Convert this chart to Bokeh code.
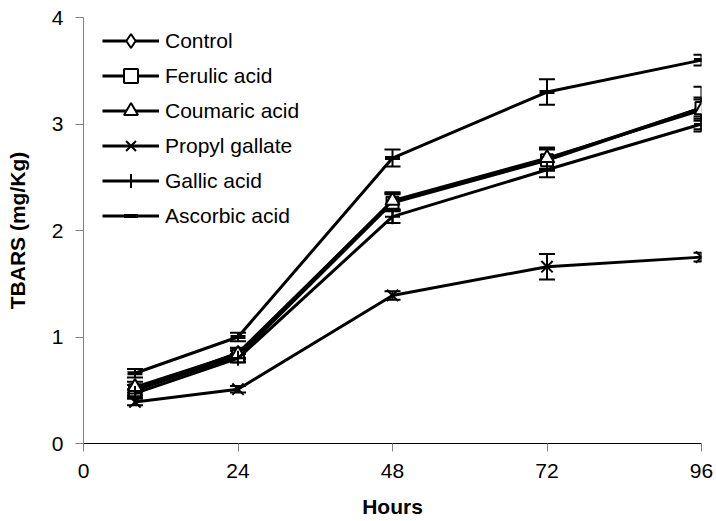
from bokeh.plotting import figure
from bokeh.models import Whisker, ColumnDataSource, TeeHead, FixedTicker, Range1d
from bokeh.embed import file_html
from bokeh.resources import INLINE

hours = [8, 24, 48, 72, 96]
control = [0.50, 0.85, 2.27, 2.67, 3.15]
ferulic = [0.50, 0.82, 2.26, 2.66, 3.15]
coumaric = [0.53, 0.84, 2.28, 2.68, 3.13]
propyl = [0.39, 0.51, 1.39, 1.66, 1.75]
gallic = [0.47, 0.80, 2.13, 2.57, 3.00]
ascorbic = [0.66, 1.00, 2.68, 3.30, 3.60]

control_err = [0.05, 0.05, 0.08, 0.10, 0.20]
ferulic_err = [0.05, 0.05, 0.08, 0.10, 0.10]
coumaric_err = [0.05, 0.05, 0.08, 0.10, 0.10]
propyl_err = [0.03, 0.03, 0.04, 0.12, 0.04]
gallic_err = [0.04, 0.04, 0.06, 0.07, 0.07]
ascorbic_err = [0.04, 0.04, 0.08, 0.12, 0.05]

x_ticks = [0, 24, 48, 72, 96]
y_ticks = [0, 1, 2, 3, 4]

FONT = "Liberation Sans"

p = figure(width=716, height=521, output_backend="svg", toolbar_location=None,
           x_range=Range1d(0, 96), y_range=Range1d(0, 4),
           min_border_left=83, min_border_right=15, min_border_top=17, min_border_bottom=78)
p.outline_line_color = None
p.xgrid.visible = False
p.ygrid.visible = False

series = [
    ("Control", control, control_err, "diamond", 14),
    ("Ferulic acid", ferulic, ferulic_err, "square", 12),
    ("Coumaric acid", coumaric, coumaric_err, "triangle", 14),
    ("Propyl gallate", propyl, propyl_err, "x", 16),
    ("Gallic acid", gallic, gallic_err, "cross", 15),
    ("Ascorbic acid", ascorbic, ascorbic_err, "dash", 15),
]

for name, vals, errs, marker, size in series:
    src = ColumnDataSource(dict(x=hours, y=vals,
                                lo=[v - e for v, e in zip(vals, errs)],
                                hi=[v + e for v, e in zip(vals, errs)]))
    w = Whisker(source=src, base="x", lower="lo", upper="hi",
                line_color="black", line_width=2,
                upper_head=TeeHead(size=16, line_color="black", line_width=2),
                lower_head=TeeHead(size=16, line_color="black", line_width=2))
    p.add_layout(w)
    p.line("x", "y", source=src, line_color="black", line_width=3, legend_label=name)
    fill = "white" if marker in ("diamond", "square", "triangle") else None
    p.scatter("x", "y", source=src, marker=marker, size=size, line_color="black",
              line_width=2 if marker != "dash" else 4, fill_color=fill, legend_label=name)

for ax in (p.xaxis[0], p.yaxis[0]):
    ax.major_label_text_font = FONT
    ax.major_label_text_font_size = "21px"
    ax.major_label_text_color = "black"
    ax.axis_label_text_font = FONT
    ax.axis_label_text_font_size = "21px"
    ax.axis_label_text_font_style = "bold"
    ax.axis_label_text_color = "black"
    ax.minor_tick_line_color = None
    ax.major_tick_in = 0
    ax.major_tick_out = 8
    ax.major_tick_line_width = 1

p.xaxis.ticker = FixedTicker(ticks=x_ticks)
p.yaxis.ticker = FixedTicker(ticks=y_ticks)
p.xaxis.axis_label = "Hours"
p.yaxis.axis_label = "TBARS (mg/Kg)"
p.xaxis.axis_line_color = "black"
p.xaxis.major_tick_line_color = "#808080"
p.yaxis.axis_line_color = "#808080"
p.yaxis.major_tick_line_color = "#808080"
p.xaxis.major_label_standoff = 12
p.yaxis.major_label_standoff = 12
p.xaxis.axis_label_standoff = 14
p.yaxis.axis_label_standoff = 20

lg = p.legend[0]
lg.location = (19, 210)
lg.margin = 0
lg.padding = 0
lg.spacing = 0
lg.glyph_width = 57
lg.glyph_height = 35
lg.label_standoff = 6
lg.label_text_font = FONT
lg.label_text_font_size = "21px"
lg.label_text_color = "black"
lg.border_line_color = None
lg.background_fill_alpha = 0

open("out.html", "w").write(file_html(p, INLINE))
